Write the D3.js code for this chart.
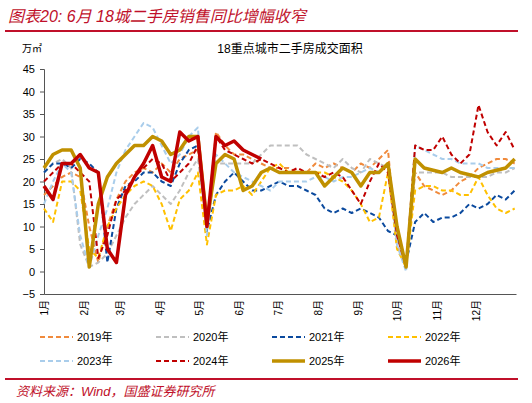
<!DOCTYPE html><html><head><meta charset="utf-8"><script src="https://cdn.jsdelivr.net/npm/d3@7"></script>
<style>body{margin:0;background:#fff}text{font-family:"Liberation Sans","Noto Sans CJK SC",sans-serif}</style></head><body><svg id="c" width="532" height="403"></svg><script>
const days=d3.range(53).map(i=>i*7);
const months=["1月","2月","3月","4月","5月","6月","7月","8月","9月","10月","11月","12月"];
const monthStarts=[0,31,59,90,120,151,181,212,243,273,304,334];
const yTicks=[-5,0,5,10,15,20,25,30,35,40,45];
const s2019=[17,19,21,22,21,10,2,10,16,20,22,23,22,24,22,25,26,27,10,31,28,26,26,25,24,23,23,23,22,22,24,23,24,23,22,24,23,25,27,6,1,22,19,18,17,18,20,21,23,24,25,25,24];
const s2020=[22,24,25,23,6,1,2,4,8,12,15,17,19,17,15,18,22,25,10,24,24,24,24,24,26,28,28,28,28,26,25,24,23,25,23,22,25,24,23,6,1,22,22,22,22,21,21,21,21,21,22,22,23];
const s2021=[22,24,24,23,25,24,22,2,14,19,20,22,22,20,19,24,27,28,9,17,20,22,20,18,18,19,20,19,19,18,17,14,13,14,13,14,13,12,9,8,2,11,13,11,12,12,13,15,14,15,17,16,18];
const s2022=[14,11,20,20,18,5,3,10,14,17,19,20,19,15,9,16,18,22,6,17,18,18,19,17,20,23,24,22,22,22,22,22,21,20,18,15,11,12,22,5,1,18,19,19,18,18,17,17,21,17,14,13,14];
const s2023=[15,20,24,22,8,1,8,14,22,27,30,33,32,28,24,26,30,32,8,26,24,22,21,20,19,18,20,20,20,20,21,21,20,21,21,22,23,22,24,6,0,28,27,26,25,25,24,24,24,23,23,23,23];
const s2024=[20,22,24,24,22,20,3,8,16,18,21,23,25,24,20,22,24,28,10,30,27,26,25,24,25,24,23,22,23,22,22,21,22,21,18,15,20,24,22,8,1,28,27,27,30,26,24,26,37,31,28,31,27];
const s2025=[23,26,27,27,23,1,15,21,24,26,28,28,30,29,26,27,30,30,11,24,26,25,18,19,22,23,22,22,22,22,22,19,21,23,22,19,22,22,24,10,1,25,23,22.5,22,23,22,21.5,21,22,22.5,23,25];
const s2026=[19,16,24,24,26,23,22,5,2,17,21,24,28,21,20,31,29,30,10,30,28,29,27,26,25];
const series=[
 {name:"2019年",v:s2019,c:"#F08A3C",w:2,d:"5,3"},
 {name:"2020年",v:s2020,c:"#BFBFBF",w:2,d:"5,3"},
 {name:"2021年",v:s2021,c:"#0B4A9E",w:2,d:"5,3"},
 {name:"2022年",v:s2022,c:"#FFC000",w:2,d:"5,3"},
 {name:"2023年",v:s2023,c:"#A9CDEB",w:2,d:"5,3"},
 {name:"2024年",v:s2024,c:"#C00000",w:2,d:"5,3"},
 {name:"2025年",v:s2025,c:"#C09000",w:3.5,d:null},
 {name:"2026年",v:s2026,c:"#C00000",w:3.5,d:null}];
const svg=d3.select("#c");
const x=d3.scaleLinear().domain([0,365]).range([44,516]);
const y=d3.scaleLinear().domain([-5,45]).range([294,69]);
svg.append("text").attr("x",8).attr("y",22).attr("fill","#C0102A").attr("font-size",16).attr("font-style","italic").text("图表20:  6月 18城二手房销售同比增幅收窄");
svg.append("line").attr("x1",5).attr("x2",518).attr("y1",31).attr("y2",31).attr("stroke","#C0102A").attr("stroke-width",2);
svg.append("text").attr("x",22).attr("y",52).attr("font-size",10).text("万㎡");
svg.append("text").attr("x",290).attr("y",53).attr("font-size",12).attr("text-anchor","middle").text("18重点城市二手房成交面积");
svg.append("g").attr("transform","translate(44,0)").call(d3.axisLeft(y).tickValues(yTicks).tickSize(4).tickFormat(d3.format("d")))
 .call(g=>{g.selectAll("text").attr("font-size",11).attr("fill","#000").attr("dx",-2);g.selectAll("line,path").attr("stroke","#555");});
svg.append("g").attr("transform","translate(0,294)").call(d3.axisBottom(x).tickValues([]).tickSize(0)).call(g=>g.select("path").attr("stroke","#555"));
svg.append("g").selectAll("text").data(months).join("text")
 .attr("transform",(d,i)=>`translate(${x(monthStarts[i])+4},300) rotate(-90)`).attr("text-anchor","end").attr("font-size",10).text(d=>d);
const line=d3.line().x((d,i)=>x(days[i])).y(d=>y(d));
svg.append("g").selectAll("path").data(series).join("path").attr("d",s=>line(s.v)).attr("fill","none")
 .attr("stroke",s=>s.c).attr("stroke-width",s=>s.w).attr("stroke-dasharray",s=>s.d).attr("stroke-linejoin","round");
const lg=svg.append("g").selectAll("g").data(series).join("g").attr("transform",(s,i)=>`translate(${40+(i%4)*116},${i<4?337:361})`);
lg.append("line").attr("x1",0).attr("x2",33).attr("stroke",s=>s.c).attr("stroke-width",s=>s.w).attr("stroke-dasharray",s=>s.d);
lg.append("text").attr("x",37).attr("y",4).attr("font-size",11).text(s=>s.name);
svg.append("line").attr("x1",5).attr("x2",518).attr("y1",379).attr("y2",379).attr("stroke","#C0102A").attr("stroke-width",2);
svg.append("text").attr("x",16).attr("y",396).attr("fill","#C0102A").attr("font-size",13).attr("font-style","italic").text("资料来源：Wind，国盛证券研究所");
</script></body></html>
